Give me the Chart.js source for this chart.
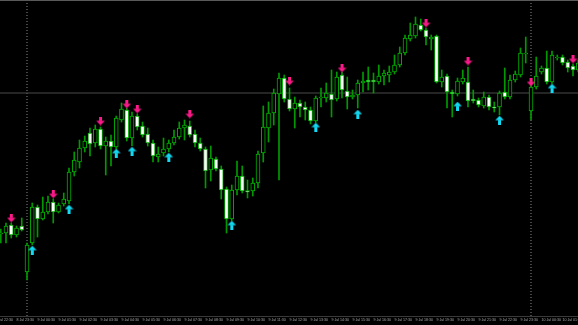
<!DOCTYPE html>
<html><head><meta charset="utf-8">
<script src="https://cdn.jsdelivr.net/npm/chart.js@4"></script>
<style>html,body{margin:0;padding:0;background:#000;overflow:hidden}canvas{display:block}</style>
</head><body>
<canvas id="c" width="578" height="325"></canvas>
<script>
// Candle data (price units), one entry per 15-minute bar
const opens=[82,83,91,81,90,44,73,109,97,104,
114,104,112,115,144,154,168,183,173,187,
170,175,169,196,206,178,200,190,182,173,
159,163,167,173,179,188,190,182,173,167,
146,157,147,127,97,126,140,125.5,125,133,
163,188,203,222,238,217,207,213,209,206,
195,218,218,222,217,241,225,219,221,233,
236,236,234,240,241,244,251,263,277,280,
291,286,277,280,234,240,224,222,234,234,
217,216,210,219,209,209,224,219,236,241,
262,205,229,244,248,234,258,259,254,250,246];
const highs=[87,93,93,90,98,73,113,111,119,120,
117,113,123,148,164,176,180,188,191,189,
179,181,200,213,208,204,202,194,188,176,
169,178,176,186,194,196,195,186,178,169,
170,159,150,129,131,155,150,136,138,165,
210,214,227,243,241,228,219,216,214,209,
220,228,233,246,244,244,239,226,236,244,
249,243,251,246,250,261,269,281,293,299,
297,288,281,281,246,242,226,238,246,249,
226,218,224,221,214,225,248,241,245,268,
279,236,259,250,265,265,261,261,256,252,256];
const lows=[73,73,78,79,85,36,71,79,96,102,
93,103,110,112,140,148,164,160,169,167,
141,150,167,194,175,170,186,179,170,154,
154,160,164,171,177,176,179,169,165,128,
135,145,117,83,95,121,123,118,120,128,
154,174,191,136,214,205,188,199,196,192,
193,209,214,199,215,218,207,217,208,224,
226,223,232,231,234,242,249,261,275,278,
285,271,266,233,229,208,199,220,232,209,
213,209,208,206,204,201,217,217,234,239,
253,196,227,242,232,232,256,251,244,240,244];
const closes=[83,90,81,88,86,71,109,97,104,114,
104,111,117,144,156,168,175,172,187,170,
175,169,198,207,178,200,189,181,173,160,
162,167,173,179,188,191,181,173,167,145,
158,147,126,97,126,140,125,124,133,162,
189,203,223,238,217,207,213,209,206,195,
218,218.5,223,216,239,226,219,221,233,235,
234,234,240,243,244,251,263,278,281,292,
286,279,279,234,239,224,222,235,238,215,
215,211,219,209,208,223,219,236,242,263,
263,229,240,248,234,261,259,253,248,246,253];
// Signal arrows (bar index, price level)
const sellIdx=[2,10,19,24,26,36,55,65,81,89,101,109];
const sellVal=[98,122,195,212,207,202,235,248,293,255,234,257];
const buyIdx=[6,13,22,25,32,44,60,68,87,95,105];
const buyVal=[66,107,163,165,159,91,189,202,210,196,228];
// Horizontal price line and day separators
const hLineValue=223;
const separatorIdx=[5,101];
// Time axis labels
const tickIdx=[-1,3,7,11,15,19,23,27,31,35,39,43,47,51,55,59,63,67,71,75,79,83,87,91,95,99,103,107];
const tickLabels=["8 Jul 22:30","8 Jul 23:30","9 Jul 00:30","9 Jul 01:30","9 Jul 02:30","9 Jul 03:30","9 Jul 04:30","9 Jul 05:30","9 Jul 06:30","9 Jul 07:30","9 Jul 08:30","9 Jul 09:30","9 Jul 10:30","9 Jul 11:30","9 Jul 12:30","9 Jul 13:30","9 Jul 14:30","9 Jul 15:30","9 Jul 16:30","9 Jul 17:30","9 Jul 18:30","9 Jul 19:30","9 Jul 20:30","9 Jul 21:30","9 Jul 22:30","9 Jul 23:30","10 Jul 00:30","10 Jul 01:30"];

const Y_MIN=0, Y_MAX=316;

function makeArrow(color, up){
  const c=document.createElement('canvas'); c.width=9; c.height=9;
  const g=c.getContext('2d'); g.fillStyle=color;
  if(up){
    g.beginPath(); g.moveTo(4.5,0.3); g.lineTo(8.8,4.8); g.lineTo(0.2,4.8); g.closePath(); g.fill();
    g.fillRect(3,4.5,3,4.5);
  } else {
    g.fillRect(3,0,3,4.5);
    g.beginPath(); g.moveTo(0.2,4.2); g.lineTo(8.8,4.2); g.lineTo(4.5,8.7); g.closePath(); g.fill();
  }
  return c;
}
const sellImg=makeArrow('#ff1a8c',false);
const buyImg=makeArrow('#12dcf5',true);

const n=opens.length;
const bodies=opens.map((o,i)=>({x:i,y:[o,closes[i]]}));
const wicks=opens.map((o,i)=>({x:i,y:[lows[i],highs[i]]}));
const bodyFill=opens.map((o,i)=>closes[i]>=o?'#000000':'#ffffff');

const datasets=[
  {type:'line',data:sellIdx.map((x,k)=>({x,y:sellVal[k]})),showLine:false,pointStyle:sellImg,pointRadius:4,pointHoverRadius:4,order:0},
  {type:'line',data:buyIdx.map((x,k)=>({x,y:buyVal[k]})),showLine:false,pointStyle:buyImg,pointRadius:4,pointHoverRadius:4,order:0},
  {type:'bar',data:bodies,backgroundColor:bodyFill,borderColor:'#00b000',borderWidth:1,borderSkipped:false,barThickness:4,minBarLength:1,grouped:false,order:1},
  {type:'bar',data:wicks,backgroundColor:'#009a00',borderWidth:0,barThickness:1,grouped:false,order:2},
  {type:'line',data:[{x:-1,y:hLineValue},{x:n+1,y:hLineValue}],borderColor:'#4a4a4a',borderWidth:1,pointRadius:0,order:3},
  {type:'line',data:[{x:-1,y:Y_MAX},{x:n+1,y:Y_MAX}],borderColor:'#5a5a5a',borderWidth:2,pointRadius:0,order:3}
];
separatorIdx.forEach(s=>datasets.push({type:'line',data:[{x:s,y:Y_MIN},{x:s,y:Y_MAX}],borderColor:'#8a8a8a',borderWidth:1,borderDash:[1,2],pointRadius:0,order:3}));

new Chart(document.getElementById('c'),{
  type:'bar',
  data:{datasets},
  options:{
    responsive:false,animation:false,events:[],
    layout:{padding:0,autoPadding:false},
    plugins:{legend:{display:false},tooltip:{enabled:false}},
    scales:{
      x:{type:'linear',min:-0.1429,max:109.952,offset:false,
         grid:{display:false,drawTicks:false,tickLength:0},border:{color:'#3a3a3a'},
         afterBuildTicks:ax=>{ax.ticks=tickIdx.map(v=>({value:v}));},
         afterFit:ax=>{ax.height=9;ax.paddingLeft=0;ax.paddingRight=0;},
         ticks:{autoSkip:false,maxRotation:0,minRotation:0,align:'start',padding:2,color:'#a8a8a8',
           font:{family:"'Liberation Sans Narrow', 'Liberation Sans', sans-serif",size:3.6},
           callback:v=>{const k=tickIdx.indexOf(v);return k>=0?tickLabels[k]:'';}}},
      y:{display:false,min:Y_MIN,max:Y_MAX}
    }
  }
});
</script>
</body></html>
